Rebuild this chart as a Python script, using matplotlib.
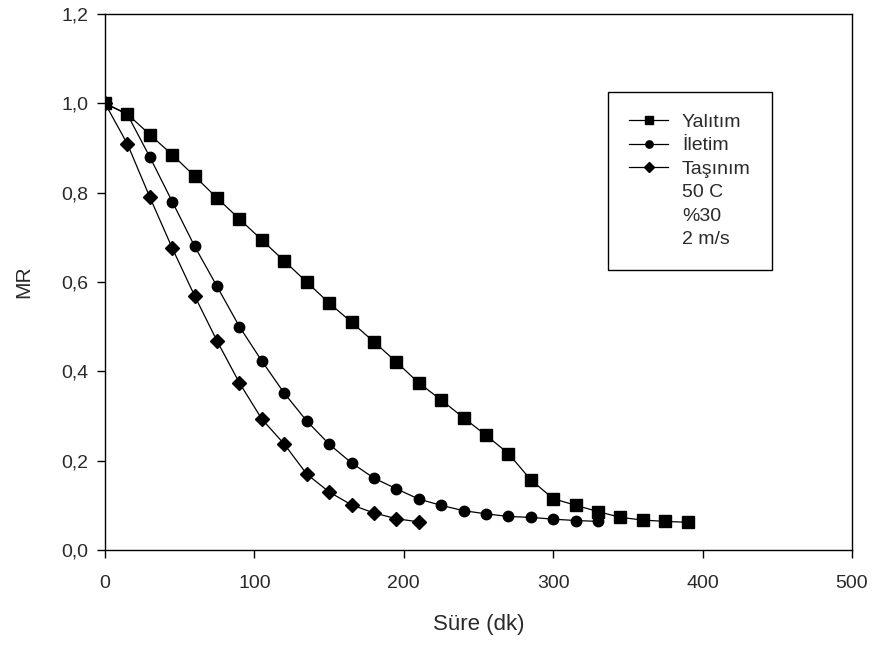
import matplotlib.pyplot as plt
from matplotlib.lines import Line2D
from matplotlib.ticker import FuncFormatter

plt.rcParams['font.family'] = ['Liberation Sans', 'DejaVu Sans']

# Süre (dk)
t_yalitim = [0, 15, 30, 45, 60, 75, 90, 105, 120, 135, 150, 165, 180, 195, 210,
             225, 240, 255, 270, 285, 300, 315, 330, 345, 360, 375, 390]
mr_yalitim = [1.0, 0.976, 0.93, 0.885, 0.837, 0.788, 0.741, 0.694, 0.647, 0.60,
              0.553, 0.51, 0.466, 0.421, 0.374, 0.336, 0.296, 0.257, 0.216, 0.157,
              0.115, 0.10, 0.086, 0.073, 0.067, 0.064, 0.062]

t_iletim = [0, 15, 30, 45, 60, 75, 90, 105, 120, 135, 150, 165, 180, 195, 210,
            225, 240, 255, 270, 285, 300, 315, 330]
mr_iletim = [1.0, 0.975, 0.88, 0.78, 0.68, 0.59, 0.50, 0.423, 0.351, 0.289, 0.237,
             0.195, 0.161, 0.137, 0.114, 0.10, 0.088, 0.081, 0.075, 0.073, 0.069,
             0.066, 0.064]

t_tasinim = [0, 15, 30, 45, 60, 75, 90, 105, 120, 135, 150, 165, 180, 195, 210]
mr_tasinim = [1.0, 0.909, 0.79, 0.676, 0.569, 0.468, 0.374, 0.293, 0.237, 0.17,
              0.13, 0.101, 0.083, 0.07, 0.063]

extra_lines = ['50 C', '%30', '2 m/s']

fig = plt.figure(figsize=(8.72, 6.45), dpi=100)
ax = fig.add_axes([0.1204, 0.1473, 0.8567, 0.8310])

txt = '#2a2a2a'
h1, = ax.plot(t_yalitim, mr_yalitim, color='black', lw=0.9, marker='s', ms=8.5, label='Yalıtım')
h2, = ax.plot(t_iletim, mr_iletim, color='black', lw=0.9, marker='o', ms=7.5, label='İletim')
h3, = ax.plot(t_tasinim, mr_tasinim, color='black', lw=0.9, marker='D', ms=7.5, label='Taşınım')

ax.set_xlim(0, 500)
ax.set_ylim(0, 1.2)
ax.set_xticks([0, 100, 200, 300, 400, 500])
ax.set_yticks([0, 0.2, 0.4, 0.6, 0.8, 1.0, 1.2])
ax.yaxis.set_major_formatter(FuncFormatter(lambda v, p: f'{v:.1f}'.replace('.', ',')))
ax.tick_params(direction='out', length=6, width=1, labelsize=14, labelcolor=txt)
ax.tick_params(axis='x', pad=12)
ax.tick_params(axis='y', pad=6)
for s in ax.spines.values():
    s.set_linewidth(1)

ax.set_xlabel('Süre (dk)', fontsize=16, color=txt, labelpad=16)
ax.set_ylabel('MR', fontsize=15, color=txt, labelpad=20)

# Legend with extra info rows that have no handle
blank = [Line2D([], [], linestyle='none') for _ in extra_lines]
leg = ax.legend([h1, h2, h3] + blank, ['Yalıtım', 'İletim', 'Taşınım'] + extra_lines,
                loc='upper left', bbox_to_anchor=(608 / 872, 1 - 92 / 645),
                bbox_transform=fig.transFigure, fancybox=False, framealpha=1,
                edgecolor='black', fontsize=14, labelspacing=0.3, handlelength=2.0,
                handletextpad=0.7, borderpad=1.1, borderaxespad=0, markerscale=0.7)
leg.get_frame().set_linewidth(1)
for t in leg.get_texts():
    t.set_color(txt)

fig.savefig('out.png', dpi=100)
